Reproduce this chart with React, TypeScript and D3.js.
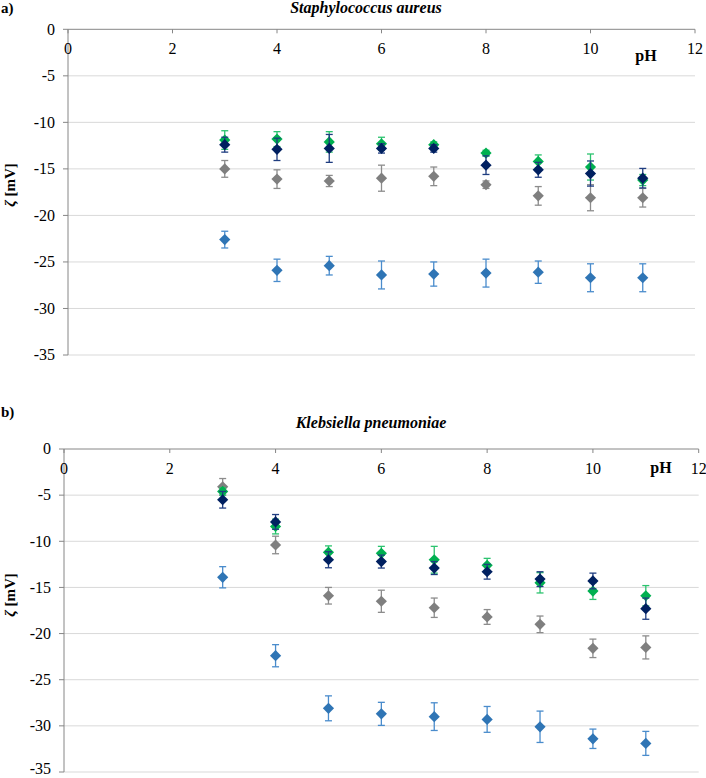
import React from "react";
import * as d3 from "d3";

const phValues = [3, 4, 5, 6, 7, 8, 9, 10, 11];
const xTicks = [0, 2, 4, 6, 8, 10, 12];
const yTicks = [0, -5, -10, -15, -20, -25, -30, -35];
const seriesNames = ["blue", "gray", "green", "navy"];
const seriesColors = ["#2f75b5", "#7f7f7f", "#00b050", "#002060"];
const errColors = ["#4a8ccc", "#8c8c8c", "#2cc36f", "#1f3d80"];

// Staphylococcus aureus
const saBlue = [-22.6, -25.9, -25.4, -26.4, -26.3, -26.2, -26.1, -26.7, -26.7];
const saBlueErr = [0.9, 1.2, 1.0, 1.5, 1.3, 1.5, 1.2, 1.5, 1.5];
const saGray = [-15.0, -16.1, -16.3, -16.0, -15.8, -16.7, -17.9, -18.1, -18.1];
const saGrayErr = [0.9, 1.0, 0.6, 1.4, 1.0, 0.4, 1.0, 1.4, 1.0];
const saGreen = [-11.9, -11.8, -12.1, -12.3, -12.4, -13.3, -14.2, -14.8, -16.2];
const saGreenErr = [1.0, 0.8, 1.1, 0.7, 0.3, 0.3, 0.7, 1.4, 0.6];
const saNavy = [-12.4, -12.9, -12.8, -12.8, -12.8, -14.6, -15.1, -15.5, -16.0];
const saNavyErr = [0.8, 1.2, 1.5, 0.5, 0.4, 1.0, 0.8, 1.35, 1.05];

// Klebsiella pneumoniae
const kpBlue = [-13.9, -22.4, -28.1, -28.7, -29.0, -29.3, -30.1, -31.4, -31.9];
const kpBlueErr = [1.15, 1.2, 1.35, 1.25, 1.5, 1.4, 1.7, 1.05, 1.3];
const kpGray = [-4.1, -10.4, -15.9, -16.5, -17.2, -18.2, -19.0, -21.6, -21.5];
const kpGrayErr = [0.9, 0.95, 0.9, 1.2, 1.05, 0.8, 0.9, 1.0, 1.25];
const kpGreen = [-4.6, -8.4, -11.2, -11.3, -12.0, -12.6, -14.5, -15.4, -15.9];
const kpGreenErr = [0.4, 0.8, 0.7, 0.75, 1.45, 0.75, 1.1, 0.9, 1.1];
const kpNavy = [-5.5, -7.9, -12.0, -12.2, -12.9, -13.3, -14.1, -14.3, -17.3];
const kpNavyErr = [0.9, 0.8, 0.87, 0.7, 0.7, 0.8, 0.8, 0.85, 1.15];

const FONT = "Liberation Serif, Times New Roman, serif";

type PanelProps = {
  label: string;
  title: string;
  titleX: number;
  titleY: number;
  labelY: number;
  x0: number;
  x1: number;
  y0: number;
  y1: number;
  phX: number;
  phY: number;
  yLabelY: number;
  values: number[][];
  errs: number[][];
};

function Panel(p: PanelProps) {
  const x = d3.scaleLinear().domain([0, 12]).range([p.x0, p.x1]);
  const y = d3.scaleLinear().domain([0, -35]).range([p.y0, p.y1]);
  const r = 5.6;
  const cap = 3.5;
  const diamond = (cx: number, cy: number) =>
    `M${cx},${cy - r}L${cx + r},${cy}L${cx},${cy + r}L${cx - r},${cy}Z`;
  return (
    <g style={{ fontFamily: FONT }}>
      <text x={1} y={p.labelY} fontWeight="bold" fontSize={15}>
        {p.label}
      </text>
      <text
        x={p.titleX}
        y={p.titleY}
        fontWeight="bold"
        fontStyle="italic"
        fontSize={16}
        textAnchor="middle"
      >
        {p.title}
      </text>
      {yTicks.slice(1).map((t) => (
        <line
          key={"g" + t}
          x1={x(0)}
          x2={x(12)}
          y1={y(t)}
          y2={y(t)}
          stroke="#d9d9d9"
          strokeWidth={1}
        />
      ))}
      <line x1={x(0)} x2={x(0)} y1={y(0)} y2={y(-35)} stroke="#868686" strokeWidth={1} />
      {yTicks.map((t) => (
        <g key={"y" + t}>
          <line x1={x(0) - 5} x2={x(0)} y1={y(t)} y2={y(t)} stroke="#868686" />
          <text
            x={x(0) - 13}
            y={Math.min(y(t), 769)}
            dy="0.33em"
            textAnchor="end"
            fontSize={16}
          >
            {t}
          </text>
        </g>
      ))}
      <line x1={x(0)} x2={x(12)} y1={y(0)} y2={y(0)} stroke="#868686" strokeWidth={1} />
      {xTicks.map((t) => (
        <g key={"x" + t}>
          <line x1={x(t)} x2={x(t)} y1={y(0)} y2={y(0) + 4} stroke="#868686" />
          <text x={x(t)} y={y(0) + 25} textAnchor="middle" fontSize={16}>
            {t}
          </text>
        </g>
      ))}
      <text x={p.phX} y={p.phY} textAnchor="middle" fontWeight="bold" fontSize={16}>
        pH
      </text>
      <text
        transform={`translate(15,${p.yLabelY}) rotate(-90)`}
        textAnchor="middle"
        fontWeight="bold"
        fontSize={15}
      >
        <tspan fontStyle="italic">ζ</tspan> [mV]
      </text>
      {p.values.map((vals, si) => (
        <g key={seriesNames[si]}>
          {vals.map((v, i) => {
            const cx = x(phValues[i]);
            const e = p.errs[si][i];
            return (
              <g key={i} stroke={errColors[si]} strokeWidth={1.3}>
                <line x1={cx} x2={cx} y1={y(v + e)} y2={y(v - e)} />
                <line x1={cx - cap} x2={cx + cap} y1={y(v + e)} y2={y(v + e)} />
                <line x1={cx - cap} x2={cx + cap} y1={y(v - e)} y2={y(v - e)} />
              </g>
            );
          })}
          {vals.map((v, i) => (
            <path key={"m" + i} d={diamond(x(phValues[i]), y(v))} fill={seriesColors[si]} />
          ))}
        </g>
      ))}
    </g>
  );
}

export default function App() {
  return (
    <svg
      width={706}
      height={778}
      style={{ position: "absolute", left: 0, top: 0, background: "#fff" }}
    >
      <rect width={706} height={778} fill="#fff" />
      <Panel
        label="a)"
        title="Staphylococcus aureus"
        titleX={366}
        titleY={13}
        labelY={13}
        x0={68}
        x1={695}
        y0={29.3}
        y1={355}
        phX={646}
        phY={61}
        yLabelY={185}
        values={[saBlue, saGray, saGreen, saNavy]}
        errs={[saBlueErr, saGrayErr, saGreenErr, saNavyErr]}
      />
      <Panel
        label="b)"
        title="Klebsiella pneumoniae"
        titleX={371}
        titleY={428}
        labelY={417}
        x0={64}
        x1={698.7}
        y0={449}
        y1={772}
        phX={661}
        phY={473}
        yLabelY={595}
        values={[kpBlue, kpGray, kpGreen, kpNavy]}
        errs={[kpBlueErr, kpGrayErr, kpGreenErr, kpNavyErr]}
      />
    </svg>
  );
}
